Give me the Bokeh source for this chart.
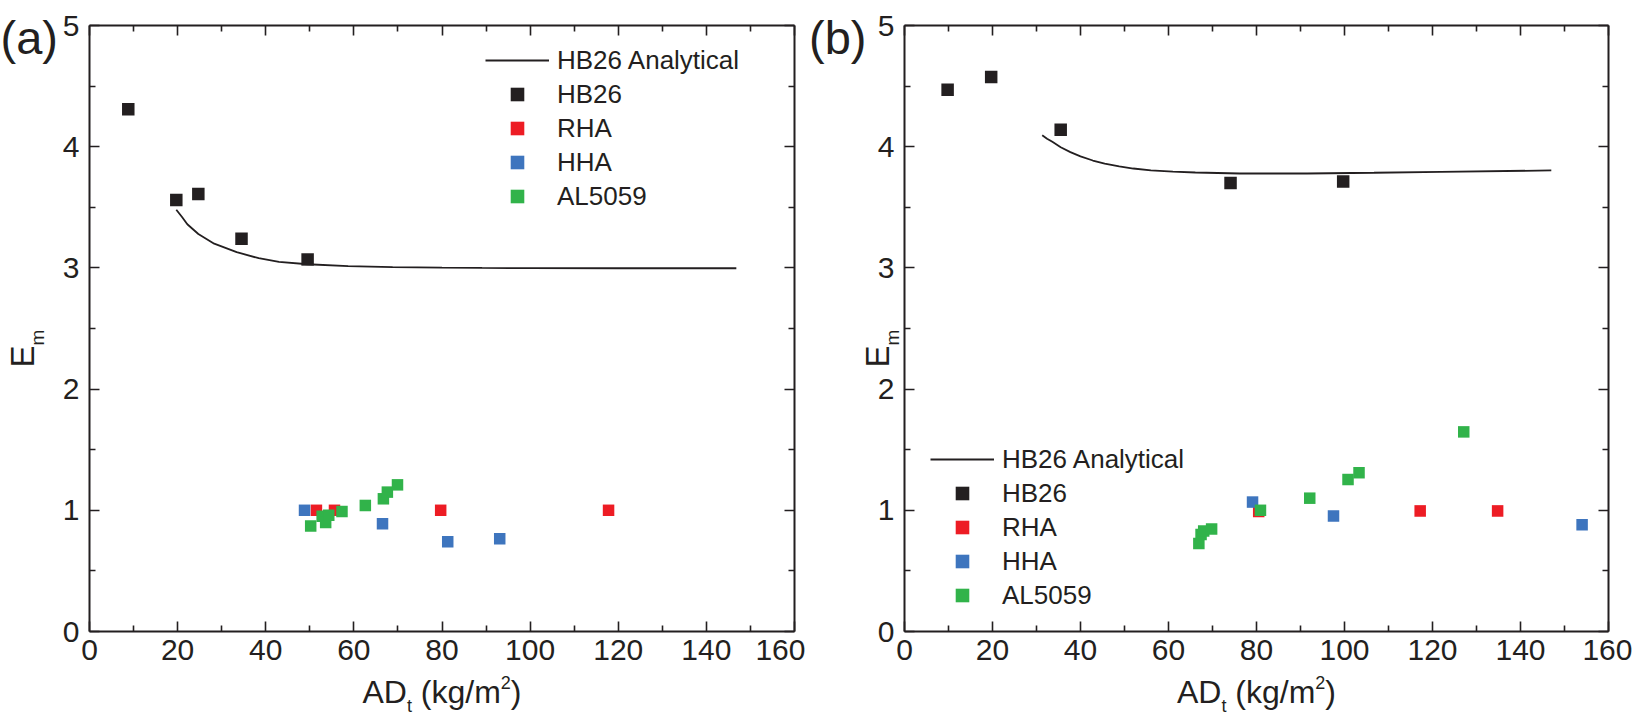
from bokeh.plotting import figure
from bokeh.layouts import row
from bokeh.models import LinearAxis, FixedTicker, Range1d, Legend, LegendItem
from bokeh.core.properties import value
from bokeh.embed import file_html
from bokeh.resources import INLINE

# ---------------- data ----------------
x_ticks = [0, 20, 40, 60, 80, 100, 120, 140, 160]
x_minor_ticks = [10, 30, 50, 70, 90, 110, 130, 150]
y_ticks = [0, 1, 2, 3, 4, 5]
y_minor_ticks = [0.5, 1.5, 2.5, 3.5, 4.5]
series_names = ["HB26 Analytical", "HB26", "RHA", "HHA", "AL5059"]
panel_tags = ["(a)", "(b)"]

# panel (a)
a_curve_x = [19.7, 21.0, 22.2, 24.7, 28.3, 33.4, 38.4, 43.0, 49.5, 58.7, 68.8, 80.0, 89.1, 100.0, 120.0, 146.8]
a_curve_y = [3.48, 3.42, 3.36, 3.28, 3.20, 3.13, 3.08, 3.05, 3.03, 3.015, 3.006, 3.002, 3.0, 2.998, 2.997, 2.997]
a_hb26_x = [8.8, 19.7, 24.7, 34.5, 49.5]
a_hb26_y = [4.31, 3.56, 3.61, 3.24, 3.07]
a_rha_x = [51.5, 55.6, 79.7, 117.8]
a_rha_y = [1.0, 1.0, 1.0, 1.0]
a_hha_x = [48.8, 66.5, 81.3, 93.1]
a_hha_y = [1.0, 0.89, 0.74, 0.765]
a_al_x = [50.2, 52.8, 53.6, 54.3, 57.3, 62.6, 66.7, 67.6, 69.9]
a_al_y = [0.87, 0.95, 0.90, 0.96, 0.99, 1.04, 1.095, 1.15, 1.21]

# panel (b)
b_curve_x = [31.3, 32.4, 33.6, 35.5, 37.7, 40.0, 42.8, 45.5, 48.8, 52.0, 56.0, 61.0, 66.1, 76.2, 91.5, 106.7, 121.9, 147.0]
b_curve_y = [4.095, 4.066, 4.04, 3.995, 3.955, 3.92, 3.886, 3.86, 3.837, 3.82, 3.804, 3.794, 3.787, 3.779, 3.779, 3.785, 3.793, 3.804]
b_hb26_x = [9.8, 19.7, 35.5, 74.1, 99.7]
b_hb26_y = [4.47, 4.575, 4.14, 3.70, 3.713]
b_rha_x = [80.5, 117.2, 134.8]
b_rha_y = [0.99, 0.995, 0.995]
b_hha_x = [79.1, 97.5, 154.0]
b_hha_y = [1.068, 0.952, 0.88]
b_al_x = [66.9, 67.4, 68.0, 69.8, 80.9, 92.1, 100.8, 103.3, 127.1]
b_al_y = [0.727, 0.80, 0.83, 0.845, 1.0, 1.10, 1.254, 1.31, 1.647]

# ---------------- style ----------------
INK = "#231f20"
RED = "#ed1c24"
BLUE = "#3e75be"
GREEN = "#31b34a"
FONT = "Liberation Sans"
H = 719
TOP = 25
FH = 606
BOTTOM = H - TOP - FH
SHIFT = 0.345  # measured offset of rendered baseline, in em

ARIAL_W = {'A': 0.667, 'D': 0.722, 't': 0.278, ' ': 0.278, '(': 0.333, ')': 0.333,
           'k': 0.5, 'g': 0.556, '/': 0.278, 'm': 0.833, '2': 0.556, 'E': 0.667}


def tw(s, size):
    return sum(ARIAL_W[c] for c in s) * size


def make_fig(width, left, right):
    p = figure(width=width, height=H, x_range=Range1d(0, 160), y_range=Range1d(0, 5),
               output_backend="svg", toolbar_location=None,
               x_axis_type=None, y_axis_type=None,
               min_border_left=left, min_border_right=right,
               min_border_top=TOP, min_border_bottom=BOTTOM)
    p.outline_line_color = None
    p.background_fill_color = "white"
    p.border_fill_color = "white"
    for place in ["below", "above", "left", "right"]:
        if place in ("below", "above"):
            ticks, minor = x_ticks, x_minor_ticks
        else:
            ticks, minor = y_ticks, y_minor_ticks
        ax = LinearAxis(ticker=FixedTicker(ticks=ticks, minor_ticks=minor))
        ax.axis_line_width = 2
        ax.axis_line_color = INK
        ax.major_tick_in = 10
        ax.major_tick_out = 0
        ax.minor_tick_in = 6
        ax.minor_tick_out = 0
        ax.major_tick_line_width = 1.6
        ax.minor_tick_line_width = 1.6
        ax.major_tick_line_color = INK
        ax.minor_tick_line_color = INK
        ax.major_label_text_font = FONT
        ax.major_label_text_color = INK
        if place in ("below", "left"):
            ax.major_label_text_font_size = "30px"
            ax.major_label_standoff = 8 if place == "below" else 10
        else:
            ax.major_label_overrides = {t: "" for t in ticks}
            ax.major_label_text_font_size = "0px"
            ax.major_label_standoff = 0
        p.add_layout(ax, place)
    return p


def put_text(p, x, y, s, size, angle=0.0):
    p.text(x=[x], y=[y], text=[s], text_font=value(FONT), text_font_size=value(f"{size}px"),
           text_color=INK, text_align="left", text_baseline="alphabetic",
           angle=angle, angle_units="deg", level="overlay")


def build(p, frame_left_page, frame_w, tag, tag_x, curve, pts, legend_loc, ylab_x):
    def xd(px):
        return (px - frame_left_page) * 160.0 / frame_w

    def yd(py):
        return 5 - (py - TOP) * 5.0 / FH

    r_line = p.line(curve[0], curve[1], line_color=INK, line_width=1.8)
    rs = [r_line]
    for (xs, ys), col, sz in zip(pts, [INK, RED, BLUE, GREEN], [12.5, 11.5, 11.5, 11.5]):
        rs.append(p.scatter(xs, ys, marker="square", size=sz, fill_color=col, line_color=None))

    items = [LegendItem(label=n, renderers=[r]) for n, r in zip(series_names, rs)]
    leg = Legend(items=items, location=legend_loc, orientation="vertical", padding=0, margin=0,
                 spacing=0, glyph_width=64, glyph_height=34, label_height=34, label_standoff=8,
                 label_text_font=FONT, label_text_font_size="26px", label_text_color=INK,
                 border_line_color=None, background_fill_alpha=0)
    p.add_layout(leg)

    # horizontal text with baseline at page y
    def htext(x, base, s, size):
        put_text(p, xd(x), yd(base - SHIFT * size), s, size)

    # rotated (bottom-to-top) text with baseline at page x
    def vtext(base_x, y, s, size):
        put_text(p, xd(base_x - SHIFT * size), yd(y), s, size, 90)

    # panel tag
    htext(tag_x, 53, tag, 47)

    # y title: E_m
    vtext(ylab_x, 367, "E", 33)
    vtext(ylab_x + 10.5, 367 - tw("E", 33), "m", 19)

    # x title: AD_t (kg/m^2)
    pieces = [("AD", 32, 703), ("t", 18, 712), (" (kg/m", 32, 703), ("2", 18, 688), (")", 32, 703)]
    total = sum(tw(s, f) for s, f, _ in pieces)
    cx = frame_left_page + frame_w / 2.0
    x0 = cx - total / 2.0
    for s, f, base in pieces:
        lead = len(s) - len(s.lstrip(" "))
        htext(x0 + tw(" " * lead, f), base, s.strip(" "), f)
        x0 += tw(s, f)


pa = make_fig(805, 89, 11)
pb = make_fig(827, 99, 24)

build(pa, 89, 705, panel_tags[0], 0, (a_curve_x, a_curve_y),
      [(a_hb26_x, a_hb26_y), (a_rha_x, a_rha_y), (a_hha_x, a_hha_y), (a_al_x, a_al_y)],
      (396, 418), 33)
build(pb, 904, 704, panel_tags[1], 808.5, (b_curve_x, b_curve_y),
      [(b_hb26_x, b_hb26_y), (b_rha_x, b_rha_y), (b_hha_x, b_hha_y), (b_al_x, b_al_y)],
      (26, 19), 888)

layout = row(pa, pb)
open("out.html", "w").write(file_html(layout, INLINE))
